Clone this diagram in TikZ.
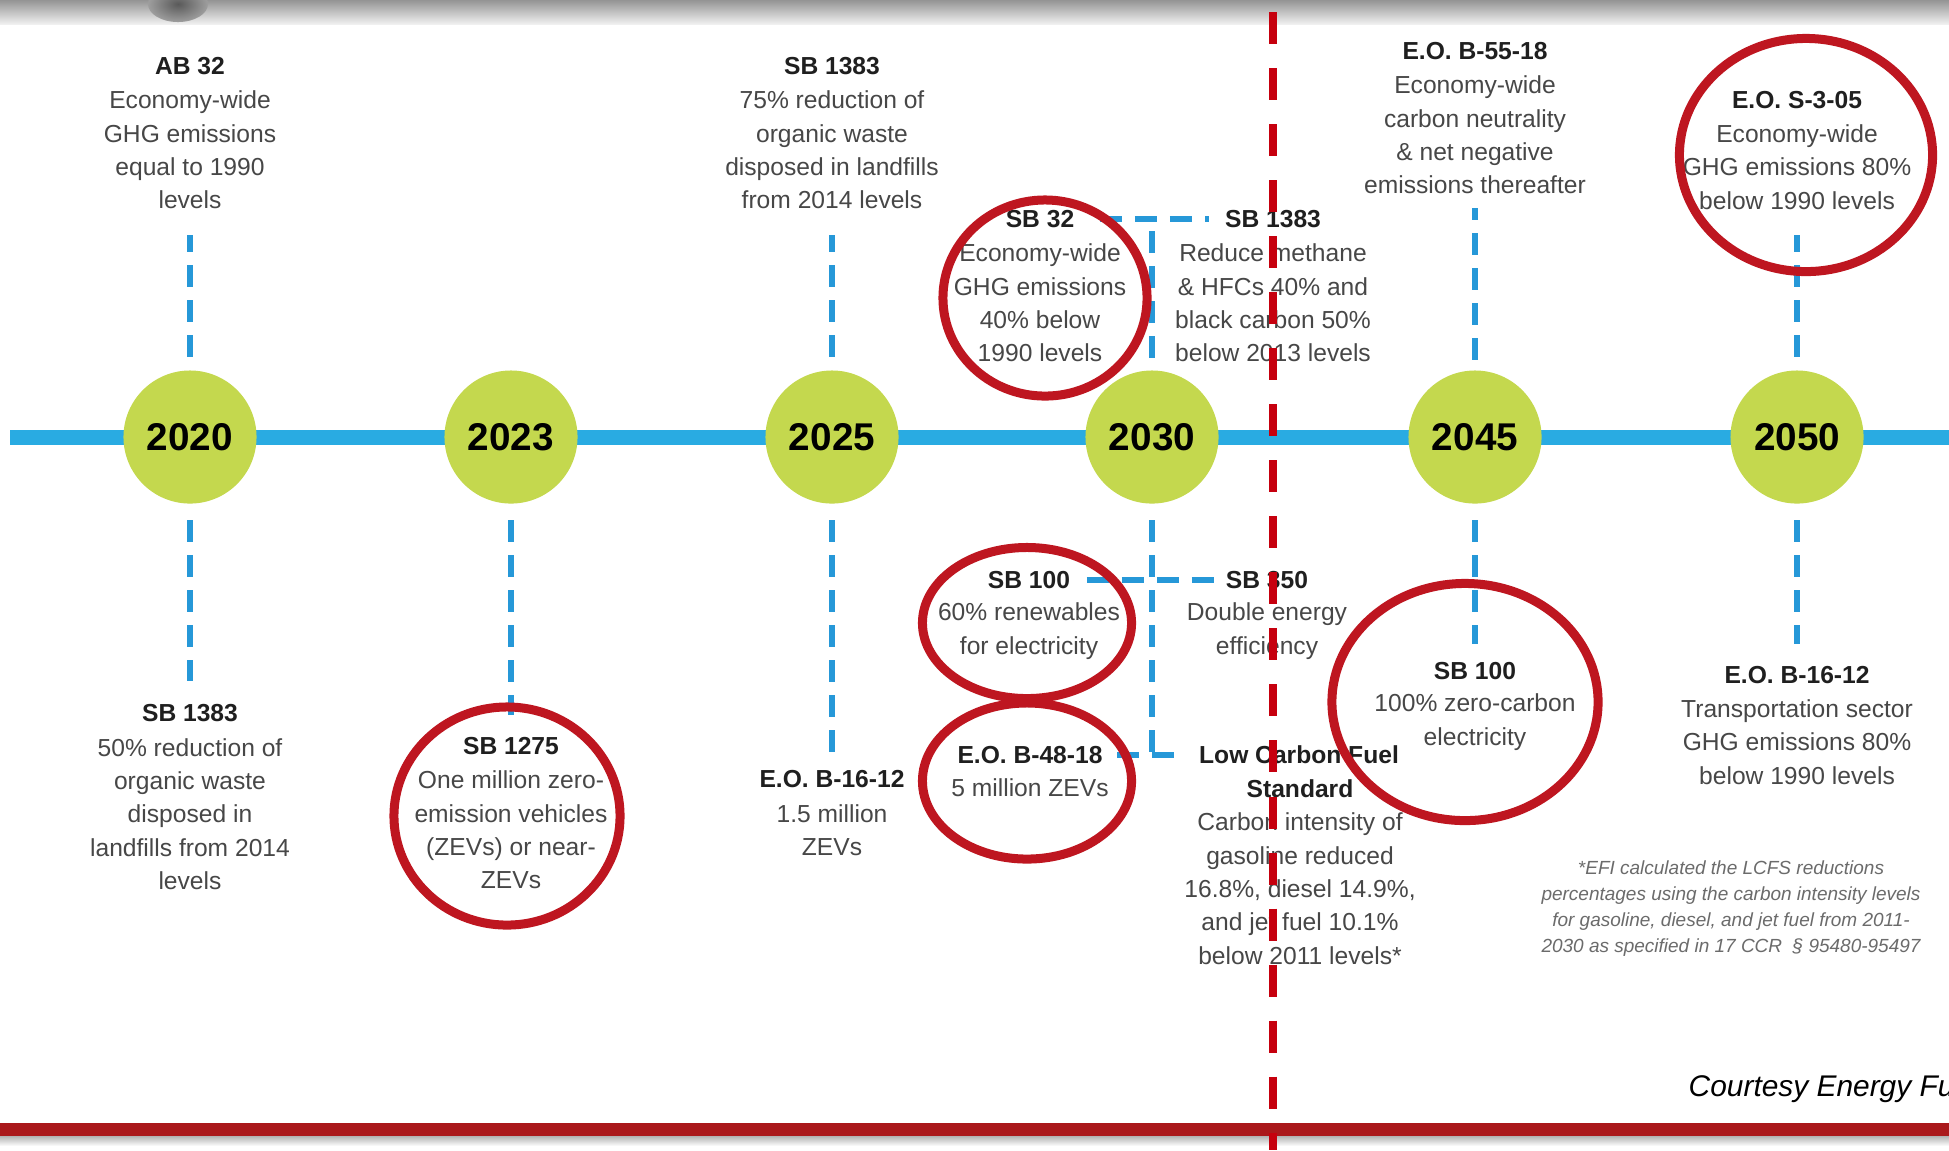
\documentclass[tikz,border=0pt]{standalone}
\usepackage{fontspec}
\setmainfont{Liberation Sans}
\usetikzlibrary{calc}
\definecolor{yeargreen}{RGB}{196,216,78}
\definecolor{lineblue}{RGB}{41,171,226}
\definecolor{dashblue}{RGB}{38,152,216}
\definecolor{ringred}{RGB}{190,22,32}
\definecolor{cutred}{RGB}{198,0,14}
\definecolor{bandred}{RGB}{170,24,27}
\tikzset{
every picture/.style={x=0.01cm, y=-0.01cm},
%%%%%%%%%%  Node styles
yearnode/.style={circle, fill=yeargreen, minimum size=1.33cm, inner sep=0pt,
                 font=\fontsize{11}{13}\selectfont\bfseries},
headline/.style={inner sep=0pt, text=black!88,
                 font=\fontsize{7}{9.5}\selectfont\bfseries},
bodytext/.style={inner sep=0pt, align=center, text=black!72,
                 font=\fontsize{7}{9.5}\selectfont},
smallnote/.style={inner sep=0pt, align=center, text=black!58,
                  font=\fontsize{5.4}{7.4}\selectfont\itshape},
%%%% different line styles:
timeline/.style={draw=lineblue, line width=0.15cm},
conn/.style={draw=dashblue, line width=0.06cm, dash pattern=on 0.22cm off 0.13cm},
ring/.style={draw=ringred, line width=0.09cm},
cutline/.style={draw=cutred, line width=0.08cm, dash pattern=on 0.32cm off 0.24cm}
}

\begin{document}
\begin{tikzpicture}
\useasboundingbox (0,0) rectangle (1949,1150);
\clip (0,0) rectangle (1949,1150);
\fill[white] (0,0) rectangle (1949,1150);
\shade[top color=black!42, bottom color=black!6] (0,0) rectangle (1949,24);
\shade[inner color=black!65, outer color=black!38] (178,4) ellipse [x radius=0.3cm, y radius=0.18cm];
\fill[bandred] (0,1123) rectangle (1949,1136);
\shade[top color=black!30, bottom color=white] (0,1136) rectangle (1949,1146);
\coordinate (tlstart) at (10,437);
\coordinate (tlend) at (1949,437);
\draw[timeline] (tlstart) -- (tlend);
\node[yearnode] (y2020) at (190,437) {2020};
\node[yearnode] (y2023) at (511,437) {2023};
\node[yearnode] (y2025) at (832,437) {2025};
\node[yearnode] (y2030) at (1152,437) {2030};
\node[yearnode] (y2045) at (1475,437) {2045};
\node[yearnode] (y2050) at (1797,437) {2050};
\node[headline] (ab32t) at (190,66) {AB 32};
\node[bodytext] (ab32) at (190,150) {Economy-wide\\GHG emissions\\equal to 1990\\levels};
\node[headline] (sb1383at) at (190,713) {SB 1383};
\node[bodytext] (sb1383a) at (190,814) {50\% reduction of\\organic waste\\disposed in\\landfills from 2014\\levels};
\node[headline] (sb1275t) at (511,746) {SB 1275};
\node[bodytext] (sb1275) at (511,830) {One million zero-\\emission vehicles\\(ZEVs) or near-\\ZEVs};
\node[headline] (sb1383bt) at (832,66) {SB 1383};
\node[bodytext] (sb1383b) at (832,150) {75\% reduction of\\organic waste\\disposed in landfills\\from 2014 levels};
\node[headline] (eob1612at) at (832,779) {E.O. B-16-12};
\node[bodytext] (eob1612a) at (832,830) {1.5 million\\ZEVs};
\node[headline] (sb32t) at (1040,219) {SB 32};
\node[bodytext] (sb32) at (1040,303) {Economy-wide\\GHG emissions\\40\% below\\1990 levels};
\node[headline] (sb1383ct) at (1273,219) {SB 1383};
\node[bodytext] (sb1383c) at (1273,303) {Reduce methane\\\& HFCs 40\% and\\black carbon 50\%\\below 2013 levels};
\node[headline] (sb100at) at (1029,580) {SB 100};
\node[bodytext] (sb100a) at (1029,631) {60\% renewables\\for electricity};
\node[headline] (sb350t) at (1267,580) {SB 350};
\node[bodytext] (sb350) at (1267,631) {Double energy\\efficiency};
\node[headline] (eob4818t) at (1030,755) {E.O. B-48-18};
\node[bodytext] (eob4818) at (1030,788) {5 million ZEVs};
\node[headline] (lcfst) at (1299,755) {Low Carbon Fuel};
\node[bodytext] (lcfs) at (1300,872) {{\color{black!88}\bfseries Standard}\\Carbon intensity of\\gasoline reduced\\16.8\%, diesel 14.9\%,\\and jet fuel 10.1\%\\below 2011 levels*};
\node[headline] (eob5518t) at (1475,51) {E.O. B-55-18};
\node[bodytext] (eob5518) at (1475,135) {Economy-wide\\carbon neutrality\\\& net negative\\emissions thereafter};
\node[headline] (sb100bt) at (1475,671) {SB 100};
\node[bodytext] (sb100b) at (1475,722) {100\% zero-carbon\\electricity};
\node[headline] (eos305t) at (1797,100) {E.O. S-3-05};
\node[bodytext] (eos305) at (1797,167) {Economy-wide\\GHG emissions 80\%\\below 1990 levels};
\node[headline] (eob1612bt) at (1797,675) {E.O. B-16-12};
\node[bodytext] (eob1612b) at (1797,742) {Transportation sector\\GHG emissions 80\%\\below 1990 levels};
\node[smallnote] (efinote) at (1731,909) {*EFI calculated the LCFS reductions\\percentages using the carbon intensity levels\\for gasoline, diesel, and jet fuel from 2011-\\2030 as specified in 17 CCR\ \ § 95480-95497};
\node[anchor=base west, inner sep=0pt, font=\fontsize{8.5}{10}\selectfont\itshape] (courtesy) at (1688,1096) {Courtesy Energy Fu};
\draw[conn, shorten <=0.13cm, shorten >=0.25cm] (y2020) -- (ab32);
\draw[conn, shorten <=0.16cm, shorten >=0.23cm] (y2020) -- (sb1383at);
\draw[conn, shorten <=0.16cm, shorten >=0.22cm] (y2023) -- (sb1275t);
\draw[conn, shorten <=0.13cm, shorten >=0.25cm] (y2025) -- (sb1383b);
\draw[conn, shorten <=0.16cm, shorten >=0.12cm] (y2025) -- (eob1612at);
\draw[conn, shorten <=0.12cm] (y2030) -- (y2030 |- sb32t);
\draw[conn, shorten <=0.25cm, shorten >=0.15cm] (sb32t) -- (sb1383ct);
\draw[conn, shorten <=0.16cm] (y2030) -- (y2030 |- eob4818t);
\draw[conn, shorten <=0.16cm, shorten >=0.09cm] (sb100at) -- (sb350t);
\draw[conn, shorten <=0.14cm, shorten >=0.14cm] (eob4818t) -- (lcfst);
\draw[conn, shorten <=0.10cm, shorten >=0.13cm] (y2045) -- (eob5518);
\draw[conn, shorten <=0.16cm, shorten >=0.18cm] (y2045) -- (sb100bt);
\draw[conn, shorten <=0.13cm, shorten >=0.25cm] (y2050) -- (eos305);
\draw[conn, shorten <=0.16cm, shorten >=0.22cm] (y2050) -- (eob1612bt);
\draw[ring] (507,816) ellipse [x radius=1.13cm, y radius=1.09cm];
\draw[ring] (1045,298) ellipse [x radius=1.02cm, y radius=0.98cm];
\draw[ring] (1027,623) ellipse [x radius=1.045cm, y radius=0.755cm];
\draw[ring] (1027,781) ellipse [x radius=1.045cm, y radius=0.78cm];
\draw[ring] (1465,702) ellipse [x radius=1.33cm, y radius=1.185cm];
\draw[ring] (1806,155) ellipse [x radius=1.265cm, y radius=1.165cm];
\coordinate (cuttop) at (1273,12);
\coordinate (cutbottom) at (1273,1150);
\draw[cutline] (cuttop) -- (cutbottom);
\end{tikzpicture}
\end{document}
